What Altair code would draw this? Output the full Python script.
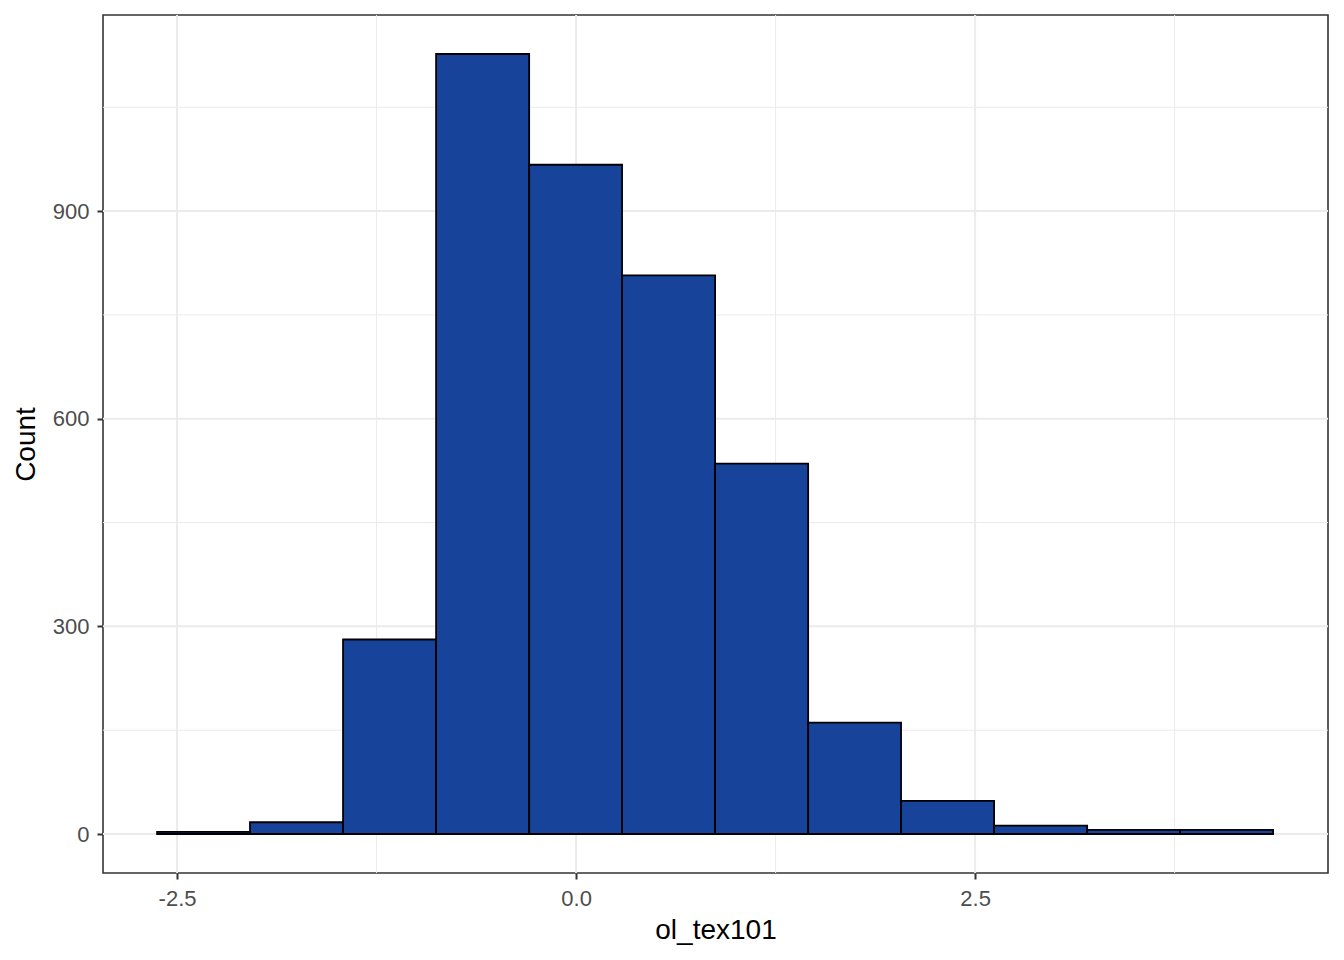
import altair as alt
import pandas as pd

# Histogram of ol_tex101 (12 bins)
bin_start = [-2.625, -2.043, -1.460, -0.877, -0.294, 0.288, 0.871, 1.454, 2.036, 2.619, 3.202, 3.784]
bin_end = [-2.043, -1.460, -0.877, -0.294, 0.288, 0.871, 1.454, 2.036, 2.619, 3.202, 3.784, 4.367]
counts = [3, 17, 281, 1127, 967, 807, 535, 161, 48, 12, 6, 6]

x_major = [-2.5, 0.0, 2.5]
x_minor = [-1.25, 1.25, 3.75]
y_major = [0, 300, 600, 900]
y_minor = [150, 450, 750, 1050]

bars_df = pd.DataFrame({"start": bin_start, "end": bin_end, "count": counts, "base": [0] * len(counts)})

FONT = "Liberation Sans"
xscale = alt.Scale(domain=[-2.964, 4.711], nice=False, zero=False)
yscale = alt.Scale(domain=[-56.35, 1183.35], nice=False, zero=False)

xaxis = alt.Axis(values=x_major, labelExpr="replace(format(datum.value, '.1f'), '\u2212', '-')",
                 grid=False, domain=False, tickColor="#333333", tickWidth=2, tickSize=6,
                 labelFont=FONT, labelFontSize=22, labelColor="#4D4D4D", labelPadding=9,
                 titleFont=FONT, titleFontSize=28, titleFontWeight="normal", titleColor="black",
                 titlePadding=7)
yaxis = alt.Axis(values=y_major, format="d",
                 grid=False, domain=False, tickColor="#333333", tickWidth=2, tickSize=6,
                 labelFont=FONT, labelFontSize=22, labelColor="#4D4D4D", labelPadding=8,
                 titleFont=FONT, titleFontSize=28, titleFontWeight="normal", titleColor="black",
                 titlePadding=12)

XT = "ol_tex101"
YT = "Count"

grid_major_x = alt.Chart(pd.DataFrame({"v": x_major})).mark_rule(color="#EBEBEB", strokeWidth=2).encode(
    x=alt.X("v:Q", scale=xscale, axis=xaxis, title=XT))
grid_minor_x = alt.Chart(pd.DataFrame({"v": x_minor})).mark_rule(color="#EBEBEB", strokeWidth=1).encode(
    x=alt.X("v:Q", scale=xscale, axis=xaxis, title=XT))
grid_major_y = alt.Chart(pd.DataFrame({"v": y_major})).mark_rule(color="#EBEBEB", strokeWidth=2).encode(
    y=alt.Y("v:Q", scale=yscale, axis=yaxis, title=YT))
grid_minor_y = alt.Chart(pd.DataFrame({"v": y_minor})).mark_rule(color="#EBEBEB", strokeWidth=1).encode(
    y=alt.Y("v:Q", scale=yscale, axis=yaxis, title=YT))

bars = alt.Chart(bars_df).mark_rect(fill="#17449A", stroke="black", strokeWidth=1.8).encode(
    x=alt.X("start:Q", scale=xscale, axis=xaxis, title=XT),
    x2="end:Q",
    y=alt.Y("count:Q", scale=yscale, axis=yaxis, title=YT),
    y2="base:Q",
)

chart = alt.layer(grid_minor_x, grid_minor_y, grid_major_x, grid_major_y, bars).properties(
    width=1225, height=858,
    autosize=alt.AutoSizeParams(type="none"),
    padding={"left": 95, "top": 7, "right": 8, "bottom": 79},
    background="white",
).configure_view(stroke="#333333", strokeWidth=1.6)

chart.save("out.html", embed_options={"renderer": "svg", "actions": False})
